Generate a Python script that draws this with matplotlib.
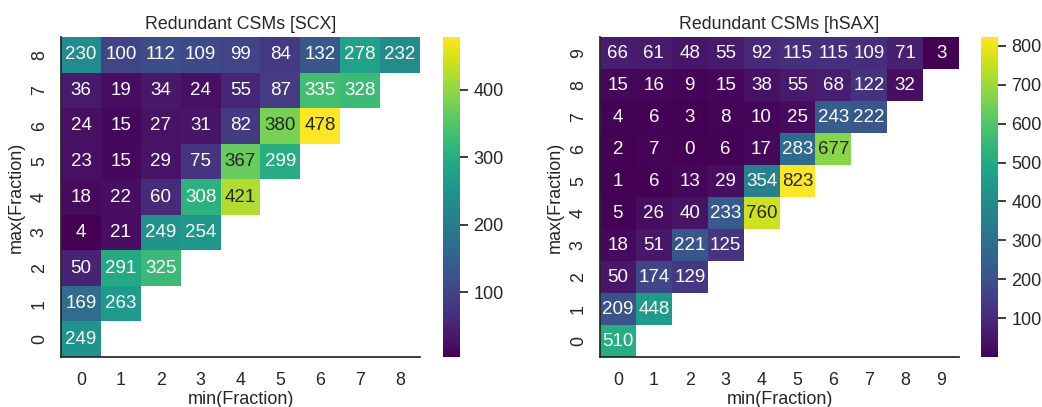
import matplotlib
matplotlib.use("Agg")
import matplotlib.pyplot as plt
import numpy as np
import pandas as pd
import seaborn as sns

sns.set_theme(style="white", font_scale=1.1)
plt.rcParams['font.family'] = ['Liberation Sans', 'DejaVu Sans']

# rows listed from max(Fraction)=top value down to 0; each row starts at min(Fraction)=0
scx_rows = [8, 7, 6, 5, 4, 3, 2, 1, 0]
scx_vals = [
    [230, 100, 112, 109, 99, 84, 132, 278, 232],
    [36, 19, 34, 24, 55, 87, 335, 328],
    [24, 15, 27, 31, 82, 380, 478],
    [23, 15, 29, 75, 367, 299],
    [18, 22, 60, 308, 421],
    [4, 21, 249, 254],
    [50, 291, 325],
    [169, 263],
    [249],
]

hsax_rows = [9, 8, 7, 6, 5, 4, 3, 2, 1, 0]
hsax_vals = [
    [66, 61, 48, 55, 92, 115, 115, 109, 71, 3],
    [15, 16, 9, 15, 38, 55, 68, 122, 32],
    [4, 6, 3, 8, 10, 25, 243, 222],
    [2, 7, 0, 6, 17, 283, 677],
    [1, 6, 13, 29, 354, 823],
    [5, 26, 40, 233, 760],
    [18, 51, 221, 125],
    [50, 174, 129],
    [209, 448],
    [510],
]


def to_frame(rows, vals):
    n = len(rows)
    mat = np.full((n, n), np.nan)
    for i, r in enumerate(vals):
        mat[i, :len(r)] = r
    return pd.DataFrame(mat, index=rows, columns=list(range(n)))


fig = plt.figure(figsize=(10.42, 4.07), dpi=100)
W, H = 1042, 407

panels = [
    ("Redundant CSMs [SCX]", to_frame(scx_rows, scx_vals), 61, 443),
    ("Redundant CSMs [hSAX]", to_frame(hsax_rows, hsax_vals), 600, 981),
]

for title, df, x0, cx in panels:
    ax = fig.add_axes([x0 / W, 50 / H, 359 / W, 320 / H])
    cax = fig.add_axes([cx / W, 50 / H, 17 / W, 320 / H])
    ticks = [t for t in range(100, int(np.nanmax(df.values)) + 1, 100)]
    sns.heatmap(df, ax=ax, cbar_ax=cax, cmap="viridis", annot=True, fmt=".0f",
                annot_kws={"size": 13.5}, cbar_kws={"ticks": ticks})
    sns.despine(ax=ax)
    ax.set_title(title, fontsize=12.8)
    ax.set_xlabel("min(Fraction)", fontsize=13, labelpad=1)
    ax.set_ylabel("max(Fraction)", fontsize=13)
    ax.tick_params(axis='both', labelsize=12.8)
    ax.tick_params(axis='x', pad=5)
    plt.setp(ax.get_yticklabels(), rotation=90, va="center")
    plt.setp(ax.get_xticklabels(), rotation=0)
    cax.tick_params(labelsize=13)

fig.savefig("out.png", dpi=100)
